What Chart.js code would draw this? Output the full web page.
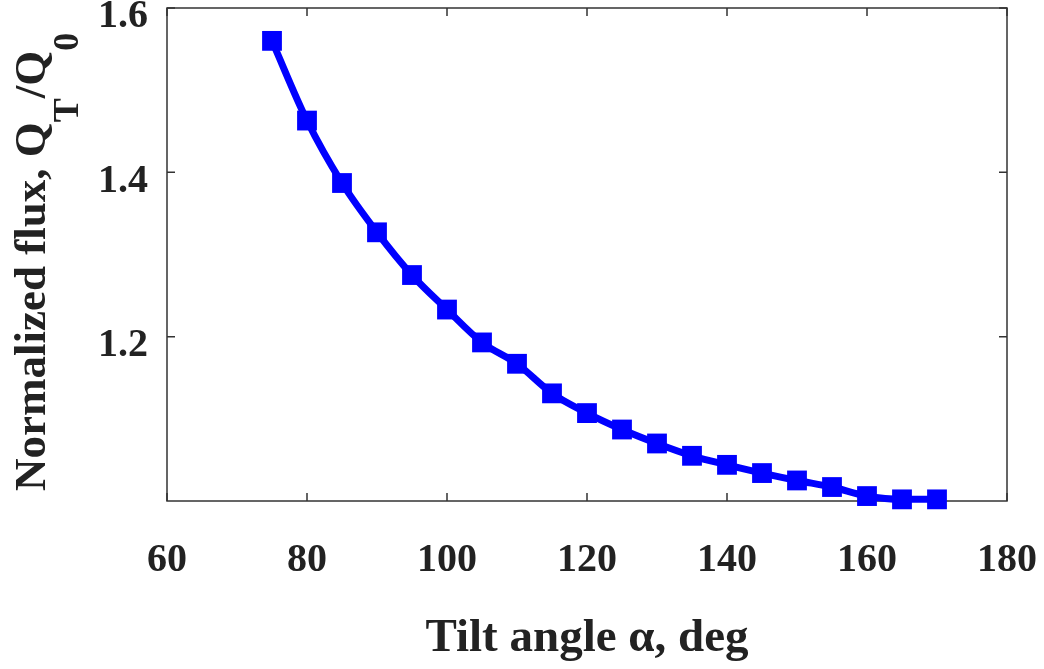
<!DOCTYPE html>
<html>
<head>
<meta charset="utf-8">
<script src="https://cdn.jsdelivr.net/npm/chart.js@4.4.1/dist/chart.umd.min.js"></script>
<style>
  html, body { margin: 0; padding: 0; background: #fff; }
  #wrap { width: 1044px; height: 669px; }
</style>
</head>
<body>
<div id="wrap"><canvas id="flux-chart" width="1044" height="669"></canvas></div>
<script>
var tiltAngle = [75, 80, 85, 90, 95, 100, 105, 110, 115, 120, 125, 130, 135, 140, 145, 150, 155, 160, 165, 170];
var normFlux = [1.560, 1.463, 1.387, 1.327, 1.275, 1.233, 1.193, 1.167, 1.131, 1.107, 1.087, 1.070, 1.055, 1.044, 1.034, 1.025, 1.017, 1.006, 1.002, 1.002];
var xTicks = [60, 80, 100, 120, 140, 160, 180];
var yTicks = [1.2, 1.4, 1.6];

var serif = "'Liberation Serif', 'Times New Roman', serif";
var inkColor = '#222222';

// MATLAB-style box with inward tick marks on all four sides
var boxPlugin = {
    id: 'boxTicks',
    beforeDatasetsDraw: function (chart) {
        var ctx = chart.ctx;
        var a = chart.chartArea;
        var xs = chart.scales.x, ys = chart.scales.y;
        var len = 8;
        ctx.save();
        ctx.strokeStyle = '#333333';
        ctx.lineWidth = 1.5;
        ctx.strokeRect(a.left, a.top, a.right - a.left, a.bottom - a.top);
        ctx.beginPath();
        xTicks.forEach(function (v) {
            var px = xs.getPixelForValue(v);
            ctx.moveTo(px, a.bottom); ctx.lineTo(px, a.bottom - len);
            ctx.moveTo(px, a.top); ctx.lineTo(px, a.top + len);
        });
        yTicks.forEach(function (v) {
            var py = ys.getPixelForValue(v);
            ctx.moveTo(a.left, py); ctx.lineTo(a.left + len, py);
            ctx.moveTo(a.right, py); ctx.lineTo(a.right - len, py);
        });
        ctx.stroke();
        ctx.restore();
    }
};

// y title with subscripts: Normalized flux, Q_T /Q_0
var yTitlePlugin = {
    id: 'yTitle',
    afterDraw: function (chart) {
        var ctx = chart.ctx;
        var parts = [
            { t: 'Normalized flux, Q', sub: false },
            { t: 'T', sub: true },
            { t: '/Q', sub: false },
            { t: '0', sub: true }
        ];
        ctx.save();
        ctx.translate(45, 491);
        ctx.rotate(-Math.PI / 2);
        ctx.fillStyle = inkColor;
        ctx.textAlign = 'left';
        ctx.textBaseline = 'alphabetic';
        var pos = 0;
        parts.forEach(function (p) {
            ctx.font = p.sub ? 'bold 36px ' + serif : 'bold 45px ' + serif;
            ctx.fillText(p.t, pos, p.sub ? 33 : 0);
            pos += ctx.measureText(p.t).width;
        });
        ctx.restore();
    }
};

function noPad(scale) {
    scale.paddingTop = 0;
    scale.paddingBottom = 0;
    scale.paddingLeft = 0;
    scale.paddingRight = 0;
}

var ctx = document.getElementById('flux-chart').getContext('2d');

var fluxChart = new Chart(ctx, {
    type: 'line',
    data: {
        datasets: [{
            data: tiltAngle.map((x, i) => ({ x: x, y: normFlux[i] })),
            borderColor: '#0000ff',
            backgroundColor: '#0000ff',
            borderWidth: 7,
            tension: 0.4,
            cubicInterpolationMode: 'monotone',
            pointStyle: 'rect',
            pointRadius: 14,
            pointBorderWidth: 0,
            pointHoverRadius: 14,
            clip: false
        }]
    },
    options: {
        responsive: false,
        animation: false,
        layout: {
            autoPadding: false,
            padding: { top: 8, right: 37, left: 0, bottom: 0 }
        },
        plugins: {
            legend: { display: false },
            tooltip: { enabled: false }
        },
        scales: {
            x: {
                type: 'linear',
                min: 60,
                max: 180,
                grid: { display: false, drawTicks: false },
                border: { display: false },
                afterFit: function (scale) { scale.height = 168; noPad(scale); },
                afterBuildTicks: function (scale) {
                    scale.ticks = xTicks.map(v => ({ value: v }));
                },
                ticks: {
                    padding: 36,
                    color: inkColor,
                    font: { family: serif, size: 40, weight: 'bold' }
                },
                title: {
                    display: true,
                    text: 'Tilt angle \u03B1, deg',
                    color: inkColor,
                    padding: { top: 0, bottom: 2 },
                    font: { family: serif, size: 47, weight: 'bold' }
                }
            },
            y: {
                min: 1.0,
                max: 1.6,
                grid: { display: false, drawTicks: false },
                border: { display: false },
                afterFit: function (scale) { scale.width = 167; noPad(scale); },
                afterBuildTicks: function (scale) {
                    scale.ticks = yTicks.map(v => ({ value: v }));
                },
                ticks: {
                    padding: 19,
                    labelOffset: 9,
                    color: inkColor,
                    font: { family: serif, size: 40, weight: 'bold' },
                    callback: function (value) { return value.toFixed(1); }
                }
            }
        }
    },
    plugins: [boxPlugin, yTitlePlugin]
});
</script>
</body>
</html>
